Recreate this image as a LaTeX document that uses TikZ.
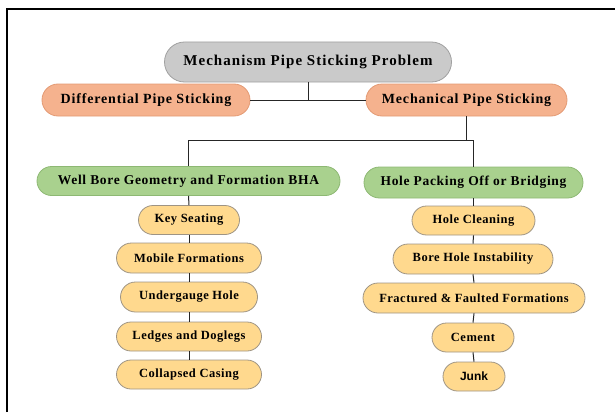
\documentclass[tikz,border=0pt]{standalone}
\usepackage{fontspec}
\setmainfont{Liberation Serif}
\newfontfamily\junkfont{Liberation Sans}
\newfontfamily\grayfont[LetterSpace=7]{Liberation Serif}
\newfontfamily\salfont[LetterSpace=6]{Liberation Serif}
\newfontfamily\grnfont[LetterSpace=5]{Liberation Serif}
\newfontfamily\yelfont[LetterSpace=4]{Liberation Serif}
\definecolor{grayfill}{HTML}{CACACA}
\definecolor{grayline}{HTML}{A0A0A0}
\definecolor{salfill}{HTML}{F5B28E}
\definecolor{salline}{HTML}{E39A74}
\definecolor{grnfill}{HTML}{A9D18E}
\definecolor{grnline}{HTML}{8DB873}
\definecolor{yelfill}{HTML}{FFD98E}
\definecolor{yelline}{HTML}{9E9484}
\usetikzlibrary{shapes.misc}
\tikzset{
  pill/.style={rounded rectangle, draw, line width=0.8pt, inner sep=0pt, align=center},
  graybox/.style={pill, fill=grayfill, draw=grayline, font=\grayfont\fontsize{15}{17}\selectfont\bfseries},
  salbox/.style={pill, fill=salfill, draw=salline, font=\salfont\fontsize{14}{16}\selectfont\bfseries},
  grnbox/.style={pill, fill=grnfill, draw=grnline, font=\grnfont\fontsize{13.5}{15}\selectfont\bfseries},
  yelbox/.style={pill, fill=yelfill, draw=yelline, font=\yelfont\fontsize{12.5}{14}\selectfont\bfseries},
  conn/.style={draw=black!85, line width=1pt},
}
\begin{document}
\begin{tikzpicture}[x=1pt,y=-1pt]
\useasboundingbox (0,0) rectangle (615,412);
\draw[line width=2pt] (7,412) -- (7,9.5) -- (615,9.5);
% top level
\node[graybox, minimum width=287, minimum height=40] (top) at (308,62) {Mechanism Pipe Sticking Problem};
\node[salbox, minimum width=208, minimum height=32] (diff) at (146,100) {Differential Pipe Sticking};
\node[salbox, minimum width=201, minimum height=32] (mech) at (466.5,100) {Mechanical Pipe Sticking};
% second level
\node[grnbox, minimum width=303, minimum height=29] (well) at (188.5,181) {Well Bore Geometry and Formation BHA};
\node[grnbox, minimum width=219, minimum height=31] (pack) at (473.5,182.5) {Hole Packing Off or Bridging};
% left column
\node[yelbox, minimum width=101, minimum height=29] (key) at (189,220) {Key Seating};
\node[yelbox, minimum width=145, minimum height=30] (mob) at (189,258) {Mobile Formations};
\node[yelbox, minimum width=137, minimum height=30] (und) at (189,297) {Undergauge Hole};
\node[yelbox, minimum width=145, minimum height=29] (led) at (189,336.5) {Ledges and Doglegs};
\node[yelbox, minimum width=145, minimum height=29] (col) at (189,374.5) {Collapsed Casing};
% right column
\node[yelbox, minimum width=123, minimum height=29] (clean) at (473.5,220.5) {Hole Cleaning};
\node[yelbox, minimum width=160, minimum height=30] (bore) at (473,259) {Bore Hole Instability};
\node[yelbox, minimum width=222, minimum height=30] (frac) at (474,298) {Fractured \& Faulted Formations};
\node[yelbox, minimum width=62, minimum height=29, font=\junkfont\fontsize{12}{14}\selectfont\bfseries] (junk) at (474,376.5) {Junk};
\node[yelbox, minimum width=82, minimum height=29] (cem) at (473,337.5) {Cement};
% connectors
\coordinate (jA) at (308,100);
\draw[conn] (top.south) -- (jA);
\draw[conn] (diff.east) -- (mech.west);
\coordinate (jB) at (466.5,140);
\draw[conn] (mech.south) -- (jB);
\draw[conn] (well.north) -- (well.north |- jB) -- (pack.north |- jB) -- (pack.north);
\draw[conn] (well.south) -- (key.north);
\draw[conn] (key.south) -- (mob.north);
\draw[conn] (mob.south) -- (und.north);
\draw[conn] (und.south) -- (led.north);
\draw[conn] (led.south) -- (col.north);
\draw[conn] (pack.south) -- (clean.north);
\draw[conn] (clean.south) -- (bore.north);
\draw[conn] (bore.south) -- (frac.north);
\draw[conn] (frac.south) -- (cem.north);
\draw[conn] (cem.south) -- (junk.north);
\end{tikzpicture}
\end{document}
